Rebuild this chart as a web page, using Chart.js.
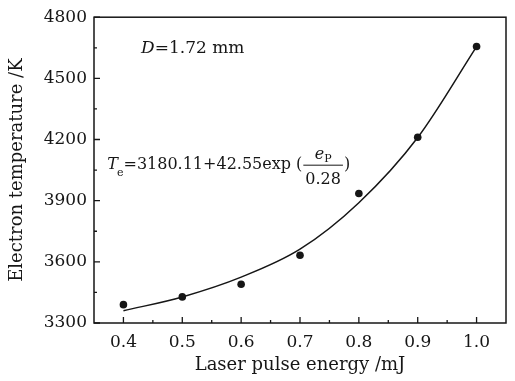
<!DOCTYPE html>
<html>
<head>
<meta charset="utf-8">
<script src="https://cdn.jsdelivr.net/npm/chart.js@4.4.0/dist/chart.umd.min.js"></script>
<style>
  html, body { margin: 0; padding: 0; background: #fff; }
  #wrap { width: 515px; height: 381px; }
</style>
</head>
<body>
<div id="wrap"><canvas id="chart" width="515" height="381"></canvas></div>
<script>
/* ---------- data ---------- */
const energy = [0.4, 0.5, 0.6, 0.7, 0.8, 0.9, 1.0];
const tempMeasured = [3390, 3428, 3490, 3632, 3935, 4211, 4656];

// fitted curve
const fitEnergy = [0.4, 0.5, 0.6, 0.7, 0.8, 0.9, 1.0];
const tempFit = [3360, 3428, 3525, 3662, 3890, 4210, 4656];

const xTicks = [0.4, 0.5, 0.6, 0.7, 0.8, 0.9, 1.0];
const xMinor = [0.45, 0.55, 0.65, 0.75, 0.85, 0.95];
const yTicks = [3300, 3600, 3900, 4200, 4500, 4800];
const yMinor = [3450, 3750, 4050, 4350, 4650];

const SERIF = '"DejaVu Serif", "Liberation Serif", serif';
const INK = "#161616";

/* ---------- helpers ---------- */
function pairs(xs, ys) {
  return xs.map((x, i) => ({ x, y: ys[i] }));
}

function drawFormula(ctx, x, y) {
  const reg = `16px ${SERIF}`;
  const ital = `italic 16px ${SERIF}`;
  const sub = `11px ${SERIF}`;

  ctx.font = ital;
  ctx.fillText("T", x, y);
  x += ctx.measureText("T").width - 1;

  ctx.font = sub;
  ctx.fillText("e", x, y + 7);
  x += ctx.measureText("e").width;

  ctx.font = reg;
  const head = "=3180.11+42.55exp (";
  ctx.fillText(head, x, y);
  x += ctx.measureText(head).width + 1;

  // fraction e_P / 0.28
  ctx.font = reg;
  const den = "0.28";
  const denW = ctx.measureText(den).width;
  const fracW = denW + 4;

  ctx.font = ital;
  const eW = ctx.measureText("e").width;
  ctx.font = sub;
  const pW = ctx.measureText("P").width;
  const numW = eW + pW;
  const nx = x + (fracW - numW) / 2;
  ctx.font = ital;
  ctx.fillText("e", nx, y - 10);
  ctx.font = sub;
  ctx.fillText("P", nx + eW, y - 7);

  ctx.font = reg;
  ctx.fillText(den, x + (fracW - denW) / 2, y + 15);

  ctx.beginPath();
  ctx.lineWidth = 1;
  ctx.moveTo(x, y - 3.5);
  ctx.lineTo(x + fracW, y - 3.5);
  ctx.stroke();

  x += fracW + 1;
  ctx.fillText(")", x, y);
}

/* ---------- frame, inward ticks, annotations ---------- */
const framePlugin = {
  id: "framePlugin",
  afterDraw(chart) {
    const { ctx, chartArea: a, scales } = chart;
    const xs = scales.x, ys = scales.y;
    ctx.save();
    ctx.strokeStyle = INK;
    ctx.fillStyle = INK;

    ctx.lineWidth = 1.5;
    ctx.strokeRect(a.left, a.top, a.right - a.left, a.bottom - a.top);

    ctx.lineWidth = 1.3;
    ctx.beginPath();
    xTicks.forEach(v => {
      const px = xs.getPixelForValue(v);
      ctx.moveTo(px, a.bottom); ctx.lineTo(px, a.bottom - 6);
    });
    xMinor.forEach(v => {
      const px = xs.getPixelForValue(v);
      ctx.moveTo(px, a.bottom); ctx.lineTo(px, a.bottom - 3);
    });
    yTicks.forEach(v => {
      const py = ys.getPixelForValue(v);
      ctx.moveTo(a.left, py); ctx.lineTo(a.left + 6, py);
    });
    yMinor.forEach(v => {
      const py = ys.getPixelForValue(v);
      ctx.moveTo(a.left, py); ctx.lineTo(a.left + 3, py);
    });
    ctx.stroke();

    // D = 1.72 mm
    ctx.textBaseline = "alphabetic";
    ctx.textAlign = "left";
    let dx = xs.getPixelForValue(0.430);
    const dy = ys.getPixelForValue(4625);
    ctx.font = `italic 17px ${SERIF}`;
    ctx.fillText("D", dx, dy);
    dx += ctx.measureText("D").width;
    ctx.font = `17px ${SERIF}`;
    ctx.fillText("=1.72 mm", dx, dy);

    drawFormula(ctx, xs.getPixelForValue(0.3726), ys.getPixelForValue(4057));
    ctx.restore();
  }
};

/* ---------- chart ---------- */
new Chart(document.getElementById("chart"), {
  type: "line",
  data: {
    datasets: [
      {
        label: "fit",
        data: pairs(fitEnergy, tempFit),
        borderColor: INK,
        borderWidth: 1.5,
        pointRadius: 0,
        cubicInterpolationMode: "monotone",
        fill: false
      },
      {
        label: "measured",
        data: pairs(energy, tempMeasured),
        showLine: false,
        pointRadius: 3.8,
        pointBackgroundColor: INK,
        pointBorderColor: INK,
        pointBorderWidth: 0
      }
    ]
  },
  options: {
    responsive: false,
    animation: false,
    devicePixelRatio: 1,
    layout: { autoPadding: false, padding: { top: 14, right: 9, left: 0, bottom: 0 } },
    plugins: { legend: { display: false }, tooltip: { enabled: false } },
    scales: {
      x: {
        type: "linear",
        min: 0.35,
        max: 1.05,
        afterBuildTicks: s => { s.ticks = xTicks.map(v => ({ value: v })); },
        afterFit: s => { s.height = 58; },
        grid: { display: false, drawTicks: false },
        border: { display: false },
        ticks: {
          color: INK,
          padding: 9,
          maxRotation: 0,
          font: { family: SERIF, size: 17 },
          callback: v => Number(v).toFixed(1)
        },
        title: {
          display: true,
          text: "Laser pulse energy /mJ",
          color: INK,
          font: { family: SERIF, size: 18 },
          padding: { top: 0, bottom: 5 }
        }
      },
      y: {
        type: "linear",
        min: 3300,
        max: 4800,
        afterBuildTicks: s => { s.ticks = yTicks.map(v => ({ value: v })); },
        afterFit: s => { s.width = 94; },
        grid: { display: false, drawTicks: false },
        border: { display: false },
        ticks: {
          color: INK,
          padding: 7,
          font: { family: SERIF, size: 17 },
          callback: v => String(v)
        },
        title: {
          display: true,
          text: "Electron temperature /K",
          color: INK,
          font: { family: SERIF, size: 18 },
          padding: { top: 7, bottom: 0 }
        }
      }
    }
  },
  plugins: [framePlugin]
});
</script>
</body>
</html>
